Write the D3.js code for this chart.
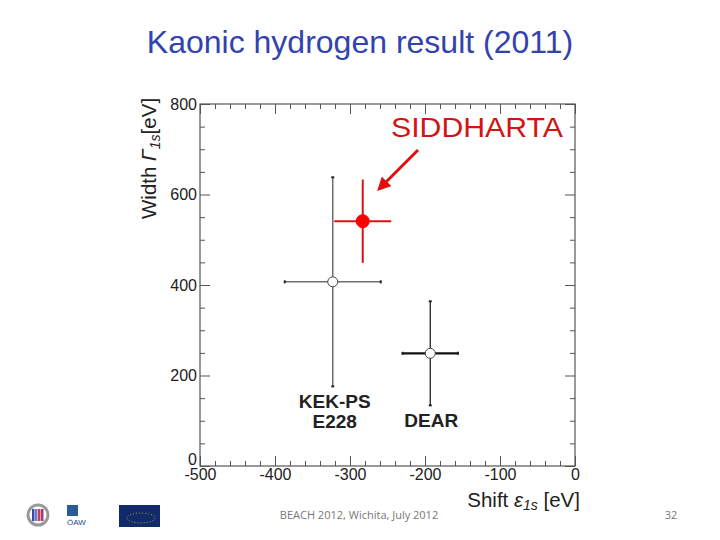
<!DOCTYPE html>
<html lang="en">
<head>
  <meta charset="UTF-8">
  <title>Kaonic hydrogen result (2011)</title>
  <style>
    body { margin: 0; background: #fff; overflow: hidden; }
    svg { font-family: "Liberation Sans", Arial, sans-serif; }
    .tick text { font-size: 16px; fill: #222; }
    .tick line { stroke: #555; }
  </style>
</head>
<body>
  <svg width="720" height="540"></svg>

  <script src="https://d3js.org/d3.v7.min.js"></script>
  <script>
    // experiments and their measured shift / width (eV)
    var names = ["KEK-PS", "DEAR", "SIDDHARTA"];
    var shift = [-323, -193, -283];
    var shiftErr = [64, 37, 38];
    var width = [407, 249, 541];
    var widthErr = [231, 115, 92];

    var xMajor = [-500, -400, -300, -200, -100, 0];
    var yMajor = [0, 200, 400, 600, 800];

    var svg = d3.select("svg");

    var x = d3.scaleLinear().domain([-500, 0]).range([200, 575]);
    var y = d3.scaleLinear().domain([0, 800]).range([466, 104]);

    var xMinor = d3.range(-500, 1, 20).filter(function(d) { return xMajor.indexOf(d) < 0; });
    var yMinor = d3.range(0, 801, 50).filter(function(d) { return yMajor.indexOf(d) < 0; });

    // title
    svg.append("text")
      .attr("x", 360).attr("y", 53)
      .attr("text-anchor", "middle")
      .style("font-size", "32px")
      .style("fill", "#3343ad")
      .text("Kaonic hydrogen result (2011)");

    var g = svg.append("g");

    // axes, ticks drawn inside the frame on all four sides
    function addAxis(axis, vals, size, pad, tr) {
      var a = g.append("g")
        .attr("transform", tr)
        .call(axis.tickValues(vals).tickSizeInner(-size).tickSizeOuter(0).tickPadding(pad)
          .tickFormat(pad ? String : ""));
      a.select(".domain").remove();
      return a;
    }
    addAxis(d3.axisBottom(x), xMajor, 10, 3, "translate(0,466)");
    addAxis(d3.axisBottom(x), xMinor, 5, 0, "translate(0,466)");
    addAxis(d3.axisTop(x), xMajor, 10, 0, "translate(0,104)");
    addAxis(d3.axisTop(x), xMinor, 5, 0, "translate(0,104)");
    addAxis(d3.axisLeft(y), yMajor, 10, 3, "translate(200,0)")
      .selectAll("text")
      .attr("dy", function(d) { return d === 0 ? "-0.08em" : "0.32em"; });
    addAxis(d3.axisLeft(y), yMinor, 5, 0, "translate(200,0)");
    addAxis(d3.axisRight(y), yMajor, 10, 0, "translate(575,0)");
    addAxis(d3.axisRight(y), yMinor, 5, 0, "translate(575,0)");

    g.append("rect")
      .attr("x", x(-500)).attr("y", y(800))
      .attr("width", x(0) - x(-500)).attr("height", y(0) - y(800))
      .attr("fill", "none").attr("stroke", "#555").attr("stroke-width", 1.2);

    // axis titles
    var yl = svg.append("text")
      .attr("transform", "translate(156,219) rotate(-90)")
      .style("font-size", "20.5px").style("fill", "#222");
    yl.append("tspan").text("Width ");
    yl.append("tspan").style("font-style", "italic").text("\u0393");
    yl.append("tspan").style("font-style", "italic").style("font-size", "14px").attr("dy", 4).text("1s");
    yl.append("tspan").attr("dy", -4).text("[eV]");

    var xl = svg.append("text")
      .attr("x", 580).attr("y", 507)
      .attr("text-anchor", "end")
      .style("font-size", "20.5px").style("fill", "#222");
    xl.append("tspan").text("Shift ");
    xl.append("tspan").style("font-style", "italic").text("\u03b5");
    xl.append("tspan").style("font-style", "italic").style("font-size", "14px").attr("dy", 3).text("1s");
    xl.append("tspan").attr("dy", -3).text(" [eV]");

    // error bars
    var styles = [
      { color: "#6e6e6e", h: 1.5, v: 1.5, cap: true, fill: "#fff", r: 5 },
      { color: "#111", h: 2.2, v: 1.2, cap: true, fill: "#fff", r: 5 },
      { color: "#e01010", h: 2, v: 2, cap: false, fill: "#f00", r: 6.5 }
    ];

    names.forEach(function(n, i) {
      var s = styles[i];
      var cx = x(shift[i]), cy = y(width[i]);
      var eg = g.append("g");
      eg.append("line")
        .attr("x1", x(shift[i] - shiftErr[i])).attr("x2", x(shift[i] + shiftErr[i]))
        .attr("y1", cy).attr("y2", cy)
        .attr("stroke", s.color).attr("stroke-width", s.h);
      eg.append("line")
        .attr("x1", cx).attr("x2", cx)
        .attr("y1", y(width[i] - widthErr[i])).attr("y2", y(width[i] + widthErr[i]))
        .attr("stroke", s.color).attr("stroke-width", s.v);
      if (s.cap) {
        [[x(shift[i] - shiftErr[i]), cy, 0, 1.5], [x(shift[i] + shiftErr[i]), cy, 0, 1.5],
         [cx, y(width[i] - widthErr[i]), 1.5, 0], [cx, y(width[i] + widthErr[i]), 1.5, 0]]
          .forEach(function(c) {
            eg.append("line")
              .attr("x1", c[0] - c[2]).attr("x2", c[0] + c[2])
              .attr("y1", c[1] - c[3]).attr("y2", c[1] + c[3])
              .attr("stroke", "#222").attr("stroke-width", 2);
          });
      }
      eg.append("circle")
        .attr("cx", cx).attr("cy", cy).attr("r", s.r)
        .attr("fill", s.fill)
        .attr("stroke", i == 2 ? "#f00" : "#444").attr("stroke-width", 1);
    });

    // labels
    var lab = svg.append("g").style("font-size", "19px").style("font-weight", "bold")
      .style("fill", "#222").attr("text-anchor", "middle");
    lab.append("text").attr("x", x(shift[0]) + 2).attr("y", 408).text("KEK-PS");
    lab.append("text").attr("x", x(shift[0]) + 2).attr("y", 428).text("E228");
    lab.append("text").attr("x", x(shift[1]) + 1).attr("y", 427).text("DEAR");

    svg.append("text")
      .attr("x", 391).attr("y", 137)
      .attr("textLength", 172).attr("lengthAdjust", "spacingAndGlyphs")
      .style("font-size", "28px").style("fill", "#d41414")
      .text("SIDDHARTA");

    // arrow
    svg.append("defs").append("marker")
      .attr("id", "head").attr("viewBox", "0 0 10 10")
      .attr("refX", 8).attr("refY", 5)
      .attr("markerWidth", 4.5).attr("markerHeight", 4.5)
      .attr("orient", "auto")
      .append("path").attr("d", "M0,0L10,5L0,10z").attr("fill", "#e01010");
    svg.append("line")
      .attr("x1", 418).attr("y1", 150).attr("x2", 379).attr("y2", 189)
      .attr("stroke", "#e01010").attr("stroke-width", 3)
      .attr("marker-end", "url(#head)");

    // footer
    svg.append("text")
      .attr("x", 359).attr("y", 519).attr("text-anchor", "middle")
      .style("font-family", "'Open Sans', sans-serif").style("font-size", "11px")
      .style("fill", "#777").text("BEACH 2012, Wichita, July 2012");
    svg.append("text")
      .attr("x", 671).attr("y", 519).attr("text-anchor", "middle")
      .style("font-family", "'Open Sans', sans-serif").style("font-size", "11px")
      .style("fill", "#777").text("32");

    // logos, rough shapes
    var lg = svg.append("g");
    lg.append("circle").attr("cx", 38).attr("cy", 515).attr("r", 10)
      .attr("fill", "#fff").attr("stroke", "#999").attr("stroke-width", 3);
    ["#3a4aa8", "#6a7acf", "#d04040", "#a03a8a"].forEach(function(c, i) {
      lg.append("rect").attr("x", 32 + i * 3).attr("y", 509).attr("width", 2.5).attr("height", 12).attr("fill", c);
    });
    lg.append("rect").attr("x", 67).attr("y", 505).attr("width", 11).attr("height", 11).attr("fill", "#2a5a9a");
    lg.append("text").attr("x", 67).attr("y", 525).style("font-size", "8px").style("fill", "#234a8a").text("ÖAW");
    lg.append("rect").attr("x", 119).attr("y", 505).attr("width", 41).attr("height", 22).attr("fill", "#102a6a");
    lg.append("ellipse").attr("cx", 141).attr("cy", 518).attr("rx", 14).attr("ry", 5)
      .attr("fill", "none").attr("stroke", "#e8c020").attr("stroke-width", 0.8).attr("stroke-dasharray", "1,2");
  </script>
</body>
</html>
